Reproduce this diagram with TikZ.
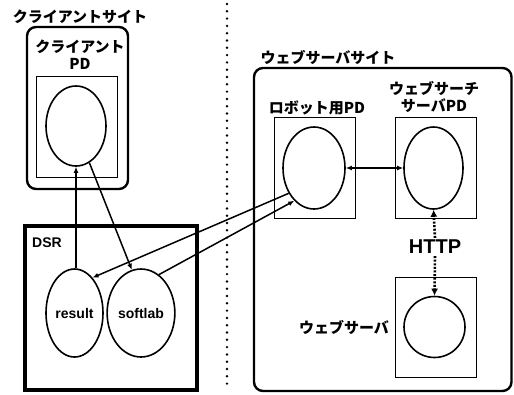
\documentclass[tikz,border=0pt]{standalone}
\usepackage{fontspec}
\setmainfont{Liberation Sans}
\newfontfamily\jp{Noto Sans CJK JP}
\usetikzlibrary{shapes.geometric, positioning, arrows.meta}

\begin{document}
\begin{tikzpicture}[x=1pt, y=-1pt,
        site/.style={draw, line width=2.4pt, rounded corners=9pt, inner sep=0pt},
        pdbox/.style={draw, line width=0.9pt, inner sep=0pt},
        obj/.style={ellipse, draw, line width=1.6pt, inner sep=0pt},
        jlabel/.style={font=\jp\bfseries\fontsize{15}{17}\selectfont, inner sep=1pt},
        elabel/.style={font=\bfseries\fontsize{14}{16}\selectfont, inner sep=1pt},
        link/.style={line width=1.5pt, -{Latex[length=6pt,width=5pt]}},
        httplink/.style={line width=2.6pt, dash pattern=on 2pt off 1.6pt, -{Latex[length=7pt,width=7pt]}}]

        \useasboundingbox (0,0) rectangle (514,394);

        % client site
        \node[jlabel] (csite) at (80,17) {クライアントサイト};
        \node[site, minimum width=101, minimum height=162] (cbox) at (77.5,108) {};
        \node[jlabel, align=center] (cpd) at (80,55) {クライアント\\PD};
        \node[pdbox, minimum width=81, minimum height=101] (cpdbox) at (76.5,126.5) {};
        \node[obj, minimum width=60, minimum height=80] (cobj) at (76,126) {};

        \node[draw, line width=4.5pt, minimum width=172, minimum height=164] (dsr) at (111,308) {};
        \node[elabel, anchor=west] (dsrlabel) at (31,243) {DSR};
        \node[obj, minimum width=57, minimum height=88, elabel] (result) at (74.5,313) {result};
        \node[obj, minimum width=54, minimum height=88, elabel] (softlab) at (141,313) {softlab};

        % border between the sites
        \draw[line width=2.7pt, line cap=round, dash pattern=on 0pt off 7.3pt] (227,4) -- (227,390);

        % web server site
        \node[jlabel] (wsite) at (328,57) {ウェブサーバサイト};
        \node[site, minimum width=257.5, minimum height=323] (wbox) at (382.75,229.5) {};
        \node[jlabel] (rpd) at (317,108) {ロボット用PD};
        \node[pdbox, minimum width=81, minimum height=101] (rbox) at (314.5,167.5) {};
        \node[obj, minimum width=62, minimum height=82] (robot) at (314,168) {};
        \node[jlabel, align=center] (spd) at (434,97) {ウェブサーチ\\サーバPD};
        \node[pdbox, minimum width=81, minimum height=101] (sbox) at (435.5,167.5) {};
        \node[obj, minimum width=59, minimum height=82] (search) at (433.5,168) {};
        \node[font=\bfseries\fontsize{20}{22}\selectfont, inner sep=2pt] (http) at (435,247) {HTTP};
        \node[pdbox, minimum width=81, minimum height=100] (wsbox) at (435.5,327) {};
        \node[obj, minimum width=61, minimum height=61] (websrv) at (434.5,327) {};
        \node[jlabel] (wslabel) at (344,327) {ウェブサーバ};

        \draw[link] (result.north -| cobj) -- (cobj.south);
        \draw[link] (cobj.-70) -- (softlab.102);
        \draw[link] (robot.-135) -- (result.63);
        \draw[link] (softlab.65) -- (robot.-121);
        \draw[link, {Latex[length=6pt,width=5pt]}-{Latex[length=6pt,width=5pt]}] (robot.east) -- (search.west);
        \draw[httplink] (http.north) -- (search.south);
        \draw[httplink] (http.south) -- (websrv.north);
\end{tikzpicture}
\end{document}
